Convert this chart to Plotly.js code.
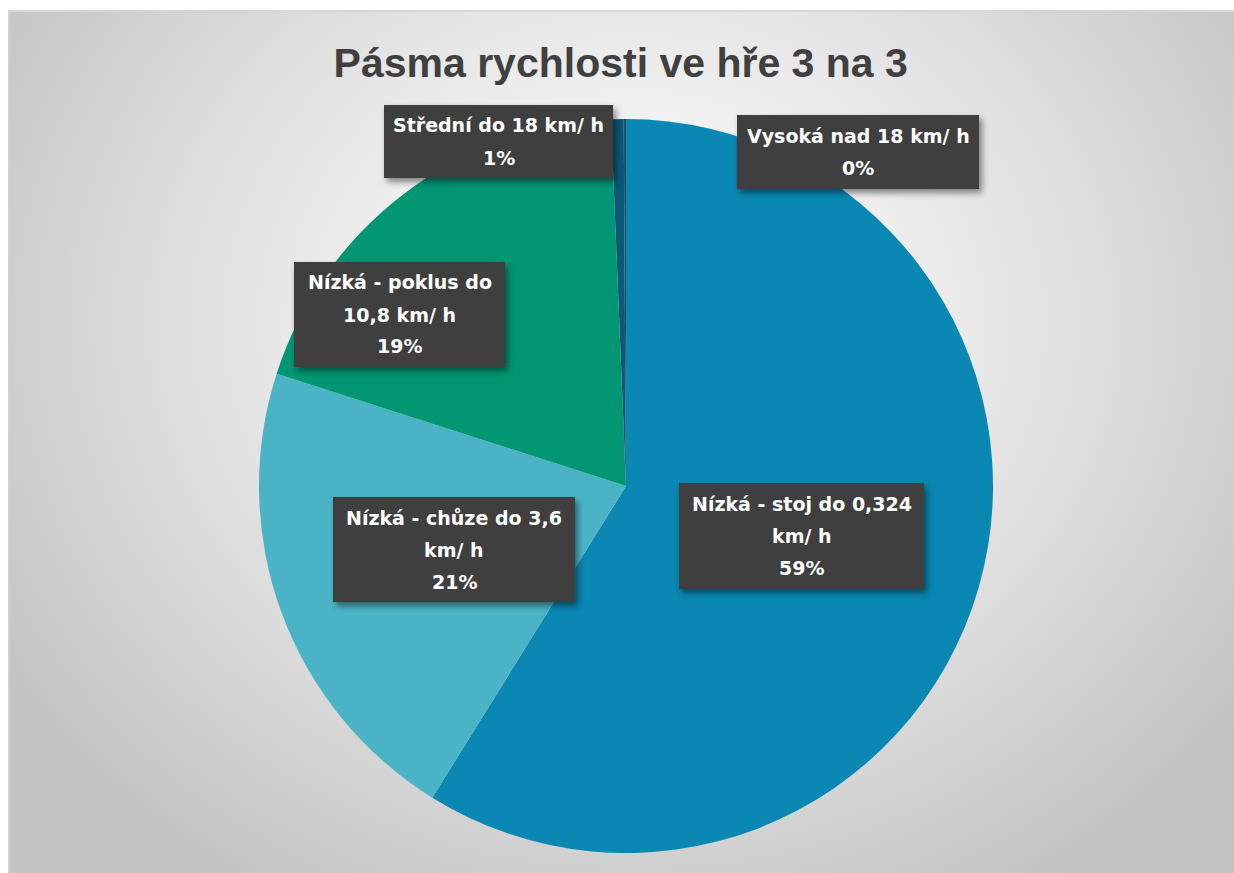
<!DOCTYPE html>
<html>
<head>
<meta charset="utf-8">
<script src="https://cdn.plot.ly/plotly-3.0.1.min.js"></script>
<style>
  html, body { margin: 0; padding: 0; width: 1234px; height: 873px; overflow: hidden; background: #ffffff; }
  #bg {
    position: absolute; left: 8px; top: 10px; width: 1226px; height: 863px;
    border-top: 2px solid #d6d6d6; border-left: 2px solid #d0d0d0; box-sizing: border-box;
    background: radial-gradient(ellipse 62% 78% at 51% 36%, #ffffff 0%, #f6f6f6 22%, #e4e4e4 52%, #d2d2d2 78%, #c2c2c2 100%);
  }
  #chart { position: absolute; left: 0; top: 0; width: 1234px; height: 873px; }
  .shapelayer path { filter: drop-shadow(3px 4px 3px rgba(0,0,0,0.45)); }
</style>
</head>
<body>
<div id="bg"></div>
<div id="chart"></div>
<script>
// ---- data ----
const categories = [
  'Nízká - stoj do 0,324 km/ h',
  'Nízká - chůze do 3,6 km/ h',
  'Nízká - poklus do 10,8 km/ h',
  'Střední do 18 km/ h',
  'Vysoká nad 18 km/ h'
];
const shares = [58.85, 21.1, 19.4, 0.55, 0.1];
const labelLines = [
  ['Nízká - stoj do 0,324', 'km/ h'],
  ['Nízká - chůze do 3,6', 'km/ h'],
  ['Nízká - poklus do', '10,8 km/ h'],
  ['Střední do 18 km/ h'],
  ['Vysoká nad 18 km/ h']
];
const sliceColors = ['#0A87B2', '#4AB4C6', '#029672', '#0C5878', '#1d4f66'];
const chartTitle = 'Pásma rychlosti ve hře 3 na 3';

// ---- label box placement (pixels: left, top, right, bottom) ----
const W = 1234, H = 873;
const boxes = [
  [679, 483, 924, 589],
  [333, 497, 575, 602],
  [294, 262, 505, 367],
  [384, 105, 613, 178],
  [737, 115, 979, 189]
];

const total = shares.reduce((a, b) => a + b, 0);
const shapes = [];
const annotations = [];
const lineGap = 32;
boxes.forEach((b, i) => {
  shapes.push({
    type: 'rect', xref: 'paper', yref: 'paper', layer: 'above',
    x0: b[0] / W, x1: b[2] / W, y0: 1 - b[3] / H, y1: 1 - b[1] / H,
    fillcolor: '#3f3f3f', line: { width: 0 }
  });
  const lines = labelLines[i].concat([Math.round(shares[i] * 100 / total) + '%']);
  const cx = (b[0] + b[2]) / 2, cy = (b[1] + b[3]) / 2;
  const n = lines.length;
  lines.forEach((t, k) => {
    const ly = cy + (k - (n - 1) / 2) * lineGap;
    annotations.push({
      xref: 'paper', yref: 'paper', x: cx / W, y: 1 - ly / H,
      xanchor: 'center', yanchor: 'middle', showarrow: false, text: t,
      font: { family: 'DejaVu Sans', size: 19, color: '#ffffff', weight: 'bold' }
    });
  });
});

const trace = {
  type: 'pie',
  labels: categories,
  values: shares,
  sort: false,
  direction: 'clockwise',
  rotation: 0,
  marker: { colors: sliceColors, line: { width: 0 } },
  textinfo: 'none',
  hoverinfo: 'label+percent',
  domain: { x: [(626 - 367) / W, (626 + 367) / W], y: [(H - 486 - 367) / H, (H - 486 + 367) / H] },
  showlegend: false
};

const layout = {
  width: W, height: H,
  margin: { l: 0, r: 0, t: 0, b: 0 },
  paper_bgcolor: 'rgba(0,0,0,0)',
  plot_bgcolor: 'rgba(0,0,0,0)',
  title: {
    text: '<b>' + chartTitle + '</b>',
    font: { family: 'Liberation Sans', size: 41, color: '#404040' },
    x: 0.503, xanchor: 'center', y: 1 - 63 / H, yanchor: 'middle', yref: 'container'
  },
  shapes: shapes,
  annotations: annotations,
  showlegend: false
};

Plotly.newPlot('chart', [trace], layout, { displayModeBar: false, staticPlot: true });
</script>
</body>
</html>
